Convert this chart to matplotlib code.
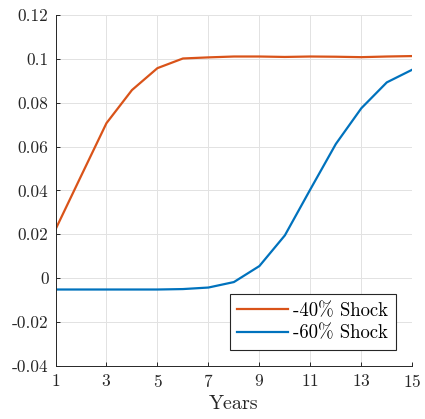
import numpy as np
import matplotlib
matplotlib.use("Agg")
import matplotlib.pyplot as plt

# Computer Modern look for all text
plt.rcParams['font.family'] = 'serif'
plt.rcParams['font.serif'] = ['cmr10']
plt.rcParams['mathtext.fontset'] = 'cm'
plt.rcParams['axes.unicode_minus'] = False
plt.rcParams['axes.formatter.use_mathtext'] = True

years = np.arange(1, 16)
shock_40 = [0.0222, 0.0465, 0.0707, 0.0858, 0.0958, 0.1002, 0.1007, 0.1011,
            0.1011, 0.1009, 0.1011, 0.1010, 0.1008, 0.1011, 0.1013]
shock_60 = [-0.0052, -0.0052, -0.0052, -0.0052, -0.0052, -0.0050, -0.0043, -0.0018,
            0.0055, 0.0195, 0.0405, 0.0612, 0.0775, 0.0893, 0.0951]
labels = ['-40% Shock', '-60% Shock']
xticks = [1, 3, 5, 7, 9, 11, 13, 15]
yticks = [-0.04, -0.02, 0, 0.02, 0.04, 0.06, 0.08, 0.1, 0.12]
ytick_labels = ['-0.04', '-0.02', '0', '0.02', '0.04', '0.06', '0.08', '0.1', '0.12']

fig = plt.figure(figsize=(4.25, 4.19), dpi=100)
ax = fig.add_axes([0.1306, 0.127, 0.8395, 0.837])

ax.plot(years, shock_40, color='#D95319', lw=1.6, label=labels[0])
ax.plot(years, shock_60, color='#0072BD', lw=1.6, label=labels[1])

ax.set_xlim(1, 15)
ax.set_ylim(-0.04, 0.12)
ax.set_xticks(xticks)
ax.set_yticks(yticks)
ax.set_yticklabels(ytick_labels)
ax.tick_params(direction='in', length=3, width=0.7, colors='#262626',
               labelsize=12.5, labelcolor='#262626', pad=5)
ax.grid(True, color='#e2e2e2', lw=0.7)
ax.set_axisbelow(True)
for s in ['top', 'right']:
    ax.spines[s].set_visible(False)
for s in ['left', 'bottom']:
    ax.spines[s].set_color('#262626')
    ax.spines[s].set_linewidth(0.7)

ax.set_xlabel('Years', fontsize=14.5, color='#262626', labelpad=4)

leg = ax.legend(loc='lower right', bbox_to_anchor=(0.954, 0.045), borderaxespad=0,
                fontsize=13.5, fancybox=False, framealpha=1, edgecolor='#262626',
                handlelength=2.7, handletextpad=0.3, labelspacing=0.25,
                borderpad=0.4)
leg.get_frame().set_linewidth(0.8)

fig.savefig('out.png', dpi=100)
